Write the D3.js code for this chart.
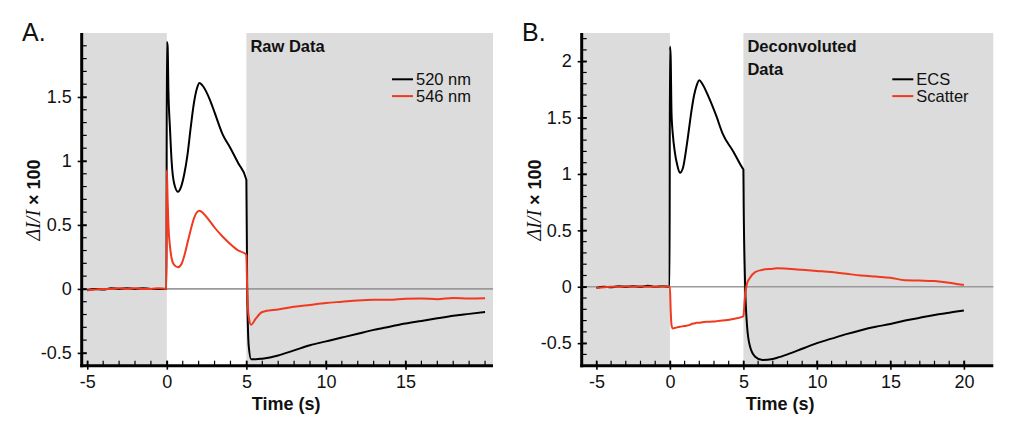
<!DOCTYPE html>
<html><head><meta charset="utf-8">
<script src="https://cdn.jsdelivr.net/npm/d3@7"></script>
<style>
body{margin:0;background:#fff;}
svg{display:block;font-family:"Liberation Sans",Arial,sans-serif;}
</style></head>
<body><svg id="c" width="1027" height="430"></svg>
<script>
// ---------- DATA ----------
const rawTime   = [-5,-4.5,-4,-3.5,-3,-2.5,-2,-1.5,-1,-0.5,-0.02,0,0.05,0.1,0.2,0.3,0.45,0.7,0.9,1.1,1.3,1.5,1.7,1.9,2.05,2.3,2.7,3.0,3.5,4.0,4.5,4.98,5.0,5.05,5.15,5.3,5.6,6,7,8,9,10,11,12,13,14,15,16,17,18,19,20];
const raw520    = [-0.01,0.0,-0.005,0.005,0.0,0.005,0.0,0.005,0.0,0.0,0.0,1.93,1.9,1.55,1.25,1.0,0.83,0.76,0.8,0.9,1.05,1.26,1.45,1.57,1.61,1.58,1.48,1.38,1.21,1.1,0.98,0.86,0.85,0.0,-0.45,-0.55,-0.55,-0.545,-0.52,-0.48,-0.44,-0.41,-0.38,-0.35,-0.32,-0.295,-0.27,-0.25,-0.23,-0.21,-0.195,-0.18];
const raw546    = [-0.01,-0.005,0.0,0.0,0.005,0.0,0.005,0.0,0.0,0.005,0.0,0.93,0.7,0.5,0.33,0.24,0.19,0.17,0.19,0.26,0.36,0.46,0.55,0.6,0.61,0.59,0.53,0.48,0.41,0.35,0.3,0.27,0.26,0.0,-0.22,-0.28,-0.23,-0.18,-0.16,-0.14,-0.125,-0.11,-0.1,-0.09,-0.085,-0.085,-0.076,-0.075,-0.08,-0.07,-0.075,-0.073];

const decTime   = [-5,-4.5,-4,-3.5,-3,-2.5,-2,-1.5,-1,-0.5,-0.02,0,0.05,0.11,0.2,0.34,0.5,0.68,0.9,1.13,1.3,1.48,1.65,1.81,2.0,2.2,2.61,3.17,3.58,4.31,4.95,5.0,5.02,5.1,5.25,5.45,5.8,6.3,7,7.3,8,9,10,11,12,13,14,15,16,17,18,19,19.5,20];
const decECS    = [-0.01,0.0,-0.005,0.005,0.0,0.005,0.0,0.01,0.0,0.005,0.0,2.13,2.05,1.54,1.35,1.19,1.08,1.01,1.06,1.24,1.4,1.57,1.7,1.78,1.83,1.8,1.69,1.51,1.36,1.2,1.05,1.04,0.72,0.1,-0.35,-0.53,-0.62,-0.65,-0.64,-0.63,-0.6,-0.55,-0.5,-0.46,-0.42,-0.385,-0.355,-0.33,-0.3,-0.275,-0.25,-0.23,-0.22,-0.21];
const decScatter= [-0.01,-0.005,0.0,0.0,0.005,0.0,0.005,0.0,0.0,0.005,0.0,0.0,-0.2,-0.34,-0.37,-0.365,-0.36,-0.355,-0.35,-0.345,-0.34,-0.33,-0.325,-0.32,-0.32,-0.315,-0.31,-0.305,-0.3,-0.285,-0.265,-0.26,-0.24,-0.1,0.03,0.08,0.13,0.15,0.16,0.165,0.16,0.15,0.14,0.13,0.115,0.1,0.09,0.08,0.058,0.055,0.05,0.035,0.025,0.015];

const xTicksA = [-5,0,5,10,15];
const xTicksB = [-5,0,5,10,15,20];
const yTicksA = [-0.5,0,0.5,1,1.5];
const yTicksB = [-0.5,0,0.5,1,1.5,2];
const legendA = ["520 nm","546 nm"];
const legendB = ["ECS","Scatter"];
const colors = ["#000000","#f0391f"];

// ---------- DRAW ----------
const svg = d3.select("#c");
const fmt = d => (d===0 ? "0" : String(d));

function panel(opts){
  const {x0,x1,xDom,yDom,xTicks,yTicks,xMinorEnd,yMinor,time,series,legend,letter,title,letterX,ylabX} = opts;
  const top=33, bottom=365.7;
  const x = d3.scaleLinear().domain(xDom).range([x0,x1]);
  const y = d3.scaleLinear().domain(yDom).range([bottom,top]);
  const g = svg.append("g");
  g.append("rect").attr("x",x0).attr("y",top).attr("width",x(0)-x0).attr("height",bottom-top).attr("fill","#dcdcdc");
  g.append("rect").attr("x",x(5)).attr("y",top).attr("width",x1-x(5)).attr("height",bottom-top).attr("fill","#dcdcdc");
  g.append("line").attr("x1",x0).attr("x2",x1).attr("y1",y(0)).attr("y2",y(0)).attr("stroke","#9a9a9a").attr("stroke-width",1.6);
  const line = d3.line().x(d=>x(d[0])).y(d=>y(d[1])).curve(d3.curveMonotoneX);
  series.forEach((s,i)=>{
    g.append("path").datum(time.map((t,j)=>[t,s[j]])).attr("d",line)
      .attr("fill","none").attr("stroke",colors[i]).attr("stroke-width",2).attr("stroke-linejoin","round");
  });
  const xMinor = d3.range(-5, xMinorEnd+0.001, 1);
  g.selectAll(null).data(xMinor).enter().append("line")
    .attr("x1",d=>x(d)).attr("x2",d=>x(d)).attr("y1",bottom).attr("y2",bottom-5)
    .attr("stroke","#000").attr("stroke-width",1.2);
  g.selectAll(null).data(yMinor).enter().append("line")
    .attr("x1",x0).attr("x2",x0+5).attr("y1",d=>y(d)).attr("y2",d=>y(d))
    .attr("stroke","#000").attr("stroke-width",1.2);
  const xAxis = d3.axisBottom(x).tickValues(xTicks).tickFormat(fmt).tickSizeInner(4).tickSizeOuter(0).tickPadding(6);
  const ax = g.append("g").attr("transform",`translate(0,${bottom})`).call(xAxis);
  ax.select(".domain").remove();
  ax.selectAll(".tick line").attr("y1",-5).attr("y2",4).attr("stroke-width",1.6);
  ax.selectAll("text").attr("font-size",18).attr("fill","#111").attr("font-family","Liberation Sans, Arial, sans-serif");
  const yAxis = d3.axisLeft(y).tickValues(yTicks).tickFormat(fmt).tickSizeInner(4).tickSizeOuter(0).tickPadding(6);
  const ay = g.append("g").attr("transform",`translate(${x0},0)`).call(yAxis);
  ay.select(".domain").remove();
  ay.selectAll(".tick line").attr("x1",-4).attr("x2",5).attr("stroke-width",1.6);
  ay.selectAll("text").attr("font-size",18).attr("fill","#111").attr("font-family","Liberation Sans, Arial, sans-serif");
  g.append("line").attr("x1",x0).attr("x2",x0).attr("y1",top).attr("y2",bottom+1.5).attr("stroke","#000").attr("stroke-width",3);
  g.append("line").attr("x1",x0-1.5).attr("x2",x1).attr("y1",bottom).attr("y2",bottom).attr("stroke","#000").attr("stroke-width",3);
  g.append("text").attr("x",x(7.5)).attr("y",410).attr("text-anchor","middle")
    .attr("font-size",18).attr("font-weight","bold").attr("fill","#111").text("Time (s)");
  const yl = g.append("text").attr("transform",`translate(${ylabX},200) rotate(-90)`).attr("text-anchor","middle")
    .attr("font-size",18).attr("fill","#111");
  yl.append("tspan").attr("font-family","Liberation Serif, Times New Roman, serif").attr("font-style","italic").attr("font-size",20).text("ΔI/I");
  yl.append("tspan").attr("font-weight","bold").text(" × 100");
  g.append("text").attr("x",letterX).attr("y",41).attr("font-size",25).attr("fill","#111").text(letter);
  title.forEach((t,i)=>{
    g.append("text").attr("x",x(5)+4).attr("y",52+i*23).attr("font-size",16.5).attr("font-weight","bold").attr("fill","#111").text(t);
  });
  const lx = x1-101;
  legend.forEach((t,i)=>{
    const ly = 79.3+i*16.8;
    g.append("line").attr("x1",lx).attr("x2",lx+21).attr("y1",ly).attr("y2",ly).attr("stroke",colors[i]).attr("stroke-width",2);
    g.append("text").attr("x",lx+24).attr("y",ly+6).attr("font-size",16.5).attr("fill","#111").text(t);
  });
}

panel({x0:81.7,x1:493,xDom:[-5.35,20.5],yDom:[-0.6,2.0],xTicks:xTicksA,yTicks:yTicksA,xMinorEnd:20,
  yMinor:d3.range(-0.5,1.95,0.1),time:rawTime,series:[raw520,raw546],legend:legendA,letter:"A.",title:["Raw Data"],letterX:22,ylabX:40});
panel({x0:581.7,x1:993.3,xDom:[-6,22],yDom:[-0.7,2.25],xTicks:xTicksB,yTicks:yTicksB,xMinorEnd:20,
  yMinor:d3.range(-0.6,2.25,0.1),time:decTime,series:[decECS,decScatter],legend:legendB,letter:"B.",title:["Deconvoluted","Data"],letterX:522,ylabX:541});
</script></body></html>
